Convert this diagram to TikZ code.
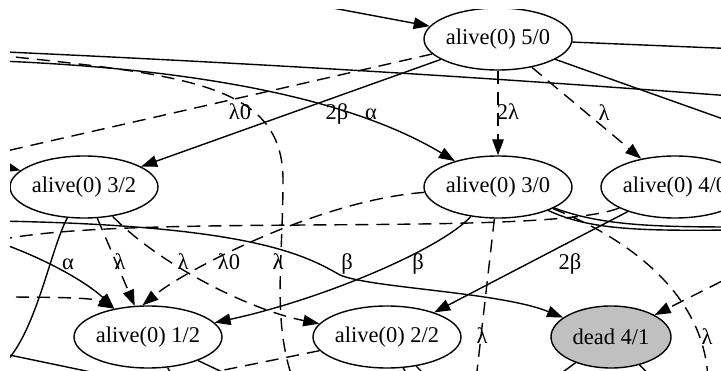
\documentclass[tikz,border=0pt]{standalone}
\usepackage{fontspec}
\setmainfont{Liberation Serif}
\usetikzlibrary{shapes.geometric,arrows.meta}
\definecolor{deadgray}{HTML}{C0C0C0}
\begin{document}
\begin{tikzpicture}[x=1pt,y=-1pt,
  state/.style={ellipse, draw, line width=1.4pt, minimum width=148pt,
    minimum height=62pt, inner sep=0pt, font=\fontsize{22.5}{26}\selectfont},
  ln/.style={line width=1.4pt},
  tr/.style={line width=1.4pt, -{Triangle[length=16pt,width=11.5pt]}},
  dsh/.style={dash pattern=on 13pt off 8pt},
  lab/.style={anchor=base, inner sep=0pt, font=\fontsize{22.5}{26}\selectfont}]
\useasboundingbox (0,0) rectangle (721,371);
\clip (10,10) rectangle (721,371);

% states
\node[state] (s50) at (498,39) {alive(0) 5/0};
\node[state] (s30) at (498,187) {alive(0) 3/0};
\node[state] (s40) at (675,187) {alive(0) 4/0};
\node[state] (s32) at (84,187) {alive(0) 3/2};
\node[state] (s12) at (148,337) {alive(0) 1/2};
\node[state] (s22) at (387,337) {alive(0) 2/2};
\node[state, fill=deadgray, minimum width=120pt] (d41) at (611,337) {dead 4/1};

% ends of transitions that leave the drawing
\coordinate (inTop) at (290,0);
\coordinate (outR1) at (740,49);
\coordinate (outR2) at (740,125);
\coordinate (lA) at (-5,51.5);
\coordinate (rA) at (725,95.5);
\coordinate (lB) at (0,61);
\coordinate (lC) at (-20,157);
\coordinate (lD) at (-5,55);
\coordinate (midD) at (283,180);
\coordinate (botD) at (293,380);
\coordinate (lE) at (-20,160);
\coordinate (lF) at (2,366);
\coordinate (lG) at (-5,352);
\coordinate (rG) at (110,376);
\coordinate (lH) at (-5,221);
\coordinate (midH) at (340,275);
\coordinate (bot30) at (476,380);
\coordinate (bot30b) at (708,380);
\coordinate (rI) at (740,272);
\coordinate (lJ) at (-5,241);
\coordinate (lK) at (-5,297);
\coordinate (lL) at (-5,241);
\coordinate (b22a) at (150,385);
\coordinate (b12a) at (235,378);
\coordinate (b12b) at (185,395);
\coordinate (b22b) at (415,390);
\coordinate (b22c) at (435,385);
\coordinate (bd1) at (545,385);
\coordinate (bd2) at (660,385);
\coordinate (r30a) at (735,227);
\coordinate (r30b) at (735,230);

% top part
\draw[tr] (inTop) -- (s50);
\draw[ln] (s50) -- (outR1);
\draw[ln] (s50) -- (outR2);
\draw[ln] (lA) .. controls (250,63) and (480,77) .. (rA);
\draw[tr] (lB) .. controls (170,68) and (340,92) .. (s30);
\draw[tr] (s50) -- (s32);
\draw[tr,dsh] (s50) -- (s30);
\draw[tr,dsh] (s50) -- (s40);
\draw[ln,dsh] (s50) -- (lC);
\draw[ln,dsh] (lD) .. controls (190,75) and (283,85) .. (midD)
  .. controls (283,260) and (272,320) .. (botD);
\draw[tr] (lE) -- (s32);

% lower part
\draw[ln] (s32) .. controls (50,250) and (36,335) .. (lF);
\draw[ln] (lG) -- (rG);
\draw[tr] (lH) .. controls (250,225) and (305,255) .. (midH)
  .. controls (370,288) and (500,292) .. (d41);
\draw[tr] (s30) .. controls (440,250) and (320,300) .. (s12);
\draw[tr] (s40) -- (s22);
\draw[ln,dsh] (s30) -- (bot30);
\draw[ln,dsh] (s30) .. controls (620,235) and (705,290) .. (bot30b);
\draw[tr,dsh] (rI) -- (d41);
\draw[ln,dsh] (s40) .. controls (540,238) and (120,212) .. (lJ);
\draw[tr,dsh] (s30) .. controls (320,200) and (185,270) .. (s12.100);
\draw[tr,dsh] (s32) -- (s12);
\draw[tr,dsh] (s32) .. controls (160,265) and (250,310) .. (s22);
\draw[tr,dsh] (lK) .. controls (60,297) and (95,298) .. (s12.140);
\draw[tr] (lL) .. controls (50,260) and (90,285) .. (s12.140);
\draw[ln] (s30) .. controls (600,225) and (650,227) .. (r30a);
\draw[ln] (s30) .. controls (590,230) and (640,231) .. (r30b);

% stubs at the bottom
\draw[ln,dsh] (s22) -- (b22a);
\draw[ln] (s12) -- (b12a);
\draw[ln] (s12) -- (b12b);
\draw[ln] (s22) -- (b22b);
\draw[ln] (s22) -- (b22c);
\draw[ln] (d41) -- (bd1);
\draw[ln] (d41) -- (bd2);

% rates
\node[lab] (r1) at (240,120) {λ0};
\node[lab] (r2) at (337,120) {2β};
\node[lab] (r3) at (371,120) {α};
\node[lab] (r4) at (508,120) {2λ};
\node[lab] (r5) at (604,121) {λ};
\node[lab] (r6) at (68,270) {α};
\node[lab] (r7) at (120,270) {λ};
\node[lab] (r8) at (183,270) {λ};
\node[lab] (r9) at (229,270) {λ0};
\node[lab] (r10) at (278,270) {λ};
\node[lab] (r11) at (347,270) {β};
\node[lab] (r12) at (418,270) {β};
\node[lab] (r13) at (570,270) {2β};
\node[lab] (r14) at (482,344) {λ};
\node[lab] (r15) at (707,345) {λ};
\end{tikzpicture}
\end{document}
